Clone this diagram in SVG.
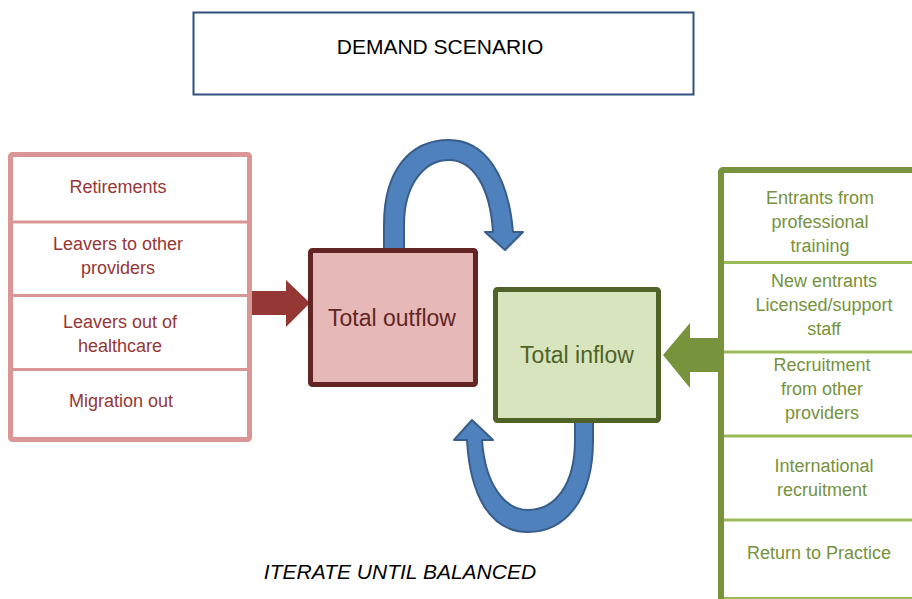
<svg xmlns="http://www.w3.org/2000/svg" width="912" height="599" viewBox="0 0 912 599">
<style>
text{font-family:"Liberation Sans",Arial,sans-serif;text-anchor:middle}
.red{fill:#953735;font-size:18px}
.grn{fill:#76923C;font-size:18px}
.loop{fill:#4F81BD;stroke:#385D8A;stroke-width:2;stroke-linejoin:round}
.sepR{stroke:#D99694;stroke-width:3}
.sepG{stroke:#9BBB59;stroke-width:3}
</style>
<rect width="912" height="599" fill="#fff"/>
<g id="demand">
<rect x="193.5" y="12.5" width="500" height="82" fill="#fff" stroke="#2F4F7F" stroke-width="2"/>
<text x="440" y="54" font-size="21" fill="#000">DEMAND SCENARIO</text>
</g>
<g id="connectors">
<path class="loop" d="M384,250 L384,225 C384,170 410,140 449,140 C485,140 508,175 513,232 L523,232 L505,250 L485,232 L493,232 C490,185 472,160 449,160 C424,160 404,185 404,225 L404,250 Z"/>
<path class="loop" d="M575,418 L593,418 L593,440 C593,500 565,532 528,532 C490,532 470,495 467,440 L454,440 L472,420 L493,440 L482,440 C485,485 505,510 528,510 C555,510 575,485 575,440 Z"/>
<path d="M248,291 L286,291 L286,280 L310,303 L286,327 L286,315 L248,315 Z" fill="#953735"/>
<path d="M720,338 L690,338 L690,323 L663,355 L690,388 L690,372 L720,372 Z" fill="#77933C"/>
</g>
<g id="outflows">
<rect x="10.5" y="154.5" width="239" height="285" rx="2" fill="#fff" stroke="#D99694" stroke-width="5"/>
<line class="sepR" x1="12" y1="222" x2="248" y2="222"/>
<line class="sepR" x1="12" y1="295.5" x2="248" y2="295.5"/>
<line class="sepR" x1="12" y1="369.5" x2="248" y2="369.5"/>
<text class="red" x="118" y="193">Retirements</text>
<text class="red" x="118" y="250">Leavers to other</text>
<text class="red" x="118" y="274">providers</text>
<text class="red" x="120" y="328">Leavers out of</text>
<text class="red" x="120" y="352">healthcare</text>
<text class="red" x="121" y="407">Migration out</text>
</g>
<g id="total-outflow">
<rect x="310.5" y="250.5" width="165" height="134" rx="2" fill="#E6B9B8" stroke="#632523" stroke-width="5"/>
<text x="392" y="326" font-size="23" fill="#632523">Total outflow</text>
</g>
<g id="total-inflow">
<rect x="495.5" y="289.5" width="163" height="131" rx="2" fill="#D7E4BD" stroke="#4F6228" stroke-width="5"/>
<text x="577" y="363" font-size="23" fill="#4F6228">Total inflow</text>
</g>
<g id="inflows">
<rect x="721" y="170" width="230" height="440" rx="2" fill="#fff" stroke="#77933C" stroke-width="6"/>
<line class="sepG" x1="724" y1="262.5" x2="912" y2="262.5"/>
<line class="sepG" x1="724" y1="352" x2="912" y2="352"/>
<line class="sepG" x1="724" y1="436" x2="912" y2="436"/>
<line class="sepG" x1="724" y1="520" x2="912" y2="520"/>
<line x1="724" y1="598" x2="912" y2="598" stroke="#9BBB59" stroke-width="2"/>
<text class="grn" x="820" y="204">Entrants from</text>
<text class="grn" x="820" y="228">professional</text>
<text class="grn" x="820" y="252">training</text>
<text class="grn" x="824" y="287">New entrants</text>
<text class="grn" x="824" y="311">Licensed/support</text>
<text class="grn" x="824" y="335">staff</text>
<text class="grn" x="822" y="371">Recruitment</text>
<text class="grn" x="822" y="395">from other</text>
<text class="grn" x="822" y="419">providers</text>
<text class="grn" x="824" y="472">International</text>
<text class="grn" x="822" y="496">recruitment</text>
<text class="grn" x="819" y="559">Return to Practice</text>
</g>
<text x="400" y="579" font-size="21" font-style="italic" fill="#000">ITERATE UNTIL BALANCED</text>
</svg>
